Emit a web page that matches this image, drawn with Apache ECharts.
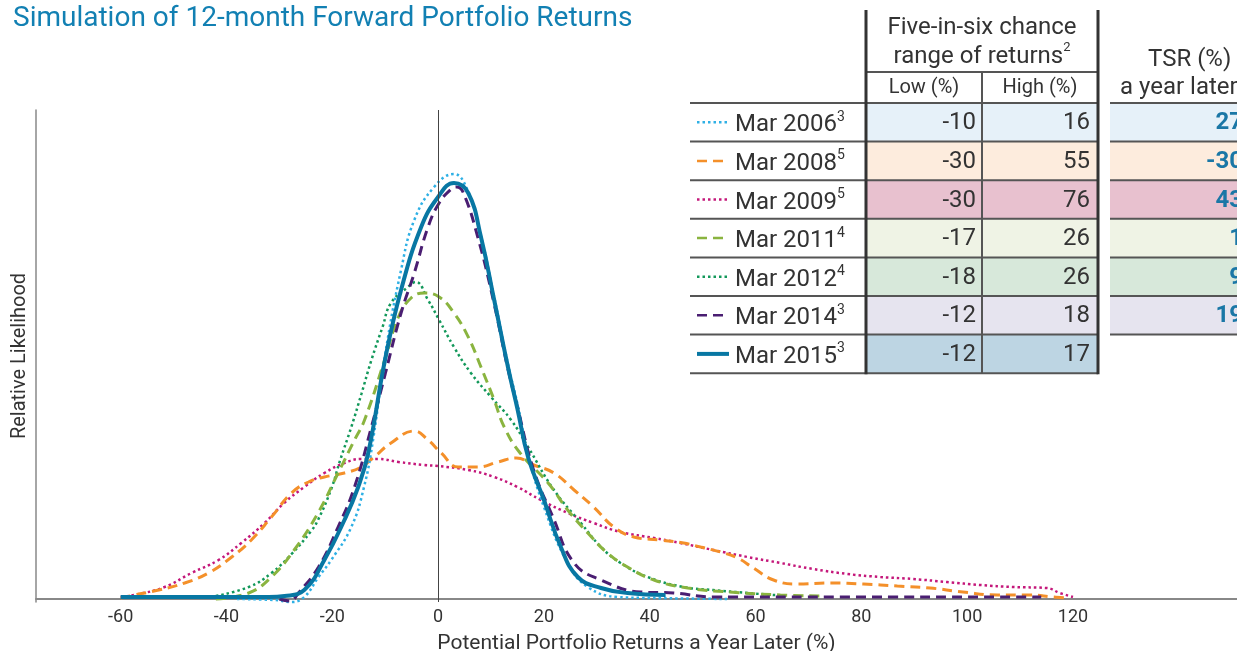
<!DOCTYPE html>
<html>
<head>
<meta charset="utf-8">
<script src="https://cdn.jsdelivr.net/npm/echarts@6/dist/echarts.min.js"></script>
<style>
  html, body { margin: 0; padding: 0; background: #fff; }
  #chart { width: 1237px; height: 651px; }
</style>
</head>
<body>
<div id="chart"></div>
<script>
// x = potential return (%), y = relative likelihood (arbitrary units)
var x2006 = [-38, -31, -27.7, -25.3, -22.6, -20.2, -16.4, -14, -12.3, -10, -7, -4.5, -0.75, 3, 5.3, 8, 10.6, 13.2, 15, 17, 20, 24.5, 28.3, 34, 40, 55];
var y2006 = [0, -1, -3, 2, 22, 39, 72, 112, 159, 245, 329, 379, 412, 425, 412, 365, 302, 235, 195, 145, 92, 36, 12, 2, 1, 0];

var x2008 = [-60, -57.4, -52.8, -47.9, -43.4, -39, -35.3, -31.5, -27.7, -24.5, -21.5, -17.7, -14.5, -12.1, -8.9, -4.5, -1.9, 0.6, 3.8, 7.5, 11.3, 14.8, 18.1, 21.9, 25.7, 29.4, 33.2, 37, 42, 46.4, 49.6, 53.4, 56.6, 59.6, 63.4, 67.9, 74.2, 80.4, 86.8, 93, 99.2, 105.7, 111.9, 116.2, 119];
var y2008 = [1, 4, 9, 16, 26, 42, 59, 82, 106, 117, 122, 126, 132, 142, 156, 168, 159, 146, 132, 132, 137, 141, 134, 126, 109, 92, 72, 62, 59, 56, 52, 47, 41, 31, 19, 15, 16, 15, 13, 11, 7, 4, 4, 2, 1];

var x2009 = [-60, -57.4, -51.7, -46.6, -41.5, -37.2, -32.8, -29.1, -25.3, -21.5, -17.7, -14.5, -11.3, -7.5, -2.6, 0, 5.7, 10.6, 15, 19.4, 24.5, 29.4, 34.5, 40.8, 45.8, 52, 58.5, 64.7, 70.9, 77.4, 83.6, 89.8, 96.2, 102.5, 108.7, 115, 117.5, 120];
var y2009 = [2, 4, 12, 26, 39, 56, 76, 96, 112, 126, 136, 140, 140, 137, 134, 133, 129, 122, 112, 99, 86, 76, 67, 61, 56, 49, 42, 36, 30, 25, 22, 20, 17, 14, 12, 11, 6, 2];

var x2011 = [-42, -35.8, -31.5, -27.2, -22.7, -18.9, -15.8, -13.9, -10.1, -7.5, -5.1, -2.6, 0.2, 3, 5.7, 8.1, 10.6, 12.5, 15.5, 20.8, 24.5, 28.3, 32, 35.8, 40.8, 47.2, 55, 64.7, 73];
var y2011 = [0, 6, 22, 49, 86, 126, 159, 179, 239, 282, 301, 306, 302, 286, 262, 232, 199, 172, 146, 116, 89, 66, 46, 32, 19, 11, 7, 4, 3];

var x2012 = [-43, -35.8, -31.5, -27.7, -24, -22.7, -20.2, -18.5, -16.4, -14.5, -12.6, -10.5, -8.9, -5.7, -4.2, -1.9, 0.2, 3, 6.2, 10, 13.8, 17, 21.9, 27, 30.8, 34.5, 39.6, 46.4, 52, 58.5, 66];
var y2012 = [2, 12, 26, 45, 68, 79, 110, 139, 172, 205, 239, 272, 296, 312, 317, 299, 279, 252, 226, 202, 179, 152, 109, 76, 52, 36, 22, 12, 9, 6, 3];

var x2014 = [-30, -28, -26.4, -22.6, -18.9, -15.8, -12.6, -10, -7, -4.5, -1.9, 0.2, 2.5, 3.5, 4.7, 7.5, 10.6, 13.2, 15, 18, 21.7, 25.7, 30.8, 38.3, 44.5, 52, 70, 114];
var y2014 = [0, -2, 6, 32, 72, 112, 172, 225, 286, 326, 372, 396, 410, 412, 407, 362, 295, 230, 192, 130, 82, 36, 19, 7, 6, 2, 2, 2];

var x2015 = [-60, -45, -32, -29, -25.3, -21.5, -17.7, -15.1, -13.2, -10, -7, -3.2, 0, 3, 5.7, 8.1, 10.6, 13.2, 15, 17, 20, 23.2, 26.4, 30.8, 35.8, 43];
var y2015 = [2, 2, 2, 3, 9, 39, 79, 112, 146, 240, 309, 372, 402, 416, 406, 362, 299, 232, 190, 142, 99, 52, 22, 11, 6, 4];

var xTicks = [-60, -40, -20, 0, 20, 40, 60, 80, 100, 120];

// table
var rowLabels = ['Mar 2006', 'Mar 2008', 'Mar 2009', 'Mar 2011', 'Mar 2012', 'Mar 2014', 'Mar 2015'];
var rowNotes = ['3', '5', '5', '4', '4', '3', '3'];
var lowReturns = [-10, -30, -30, -17, -18, -12, -12];
var highReturns = [16, 55, 76, 26, 26, 18, 17];
var tsrLater = [27, -30, 43, 1, 9, 19, null];

var lineColors = ['#2eb0e5', '#f4902a', '#c4177a', '#8ab43f', '#12985a', '#4a1e72', '#0877a3'];
var lineDashes = [[2.5, 3], [10, 6], [2.5, 3], [10, 6], [2.5, 3], [10, 6], null];
var lineWidths = [2.5, 3, 2.5, 3, 2.5, 3, 4];
var rowFills = ['#e6f1f9', '#fdecdd', '#e8c1cf', '#eff3e5', '#d7e8da', '#e6e4ef', '#bdd5e3'];

var FONT = 'Roboto, "Liberation Sans", sans-serif';
var chart = echarts.init(document.getElementById('chart'));

function pts(xs, ys) {
    return xs.map(function (x, i) { return [x, ys[i]]; });
}

var seriesData = [pts(x2006, y2006), pts(x2008, y2008), pts(x2009, y2009), pts(x2011, y2011),
    pts(x2012, y2012), pts(x2014, y2014), pts(x2015, y2015)];
var drawOrder = [2, 1, 4, 3, 0, 5, 6];

var series = drawOrder.map(function (k) {
    var s = {
        name: rowLabels[k], type: 'line', data: seriesData[k], smooth: 0.45,
        showSymbol: false, symbol: 'none', silent: true, clip: false,
        lineStyle: { color: lineColors[k], width: lineWidths[k], type: lineDashes[k] || 'solid' }
    };
    if (k === 6) {
        s.markLine = {
            silent: true, symbol: 'none', label: { show: false },
            lineStyle: { color: '#444', width: 1, type: 'solid' },
            data: [{ xAxis: 0 }]
        };
    }
    return s;
});

// ---- table as graphic
var TL = 690, C1 = 866, C2 = 982, C3 = 1098, TSR_L = 1110, TSR_R = 1237;
var ROW_TOP = 103, ROW_H = 38.6;
var g = [];
var nRows = rowLabels.length;
for (var i = 0; i < nRows; i++) {
    var y0 = ROW_TOP + i * ROW_H, yc = y0 + ROW_H / 2;
    g.push({ type: 'rect', z: 1, shape: { x: C1, y: y0, width: C3 - C1, height: ROW_H }, style: { fill: rowFills[i] } });
    if (tsrLater[i] !== null) {
        g.push({ type: 'rect', z: 1, shape: { x: TSR_L, y: y0, width: TSR_R - TSR_L, height: ROW_H }, style: { fill: rowFills[i] } });
        g.push({ type: 'text', z: 3, x: 1243, y: yc + 1, style: {
            text: String(tsrLater[i]), fill: '#1a77a6', font: 'bold 24px ' + FONT, align: 'right', verticalAlign: 'middle' } });
    }
    g.push({ type: 'line', z: 3, shape: { x1: 697, y1: yc, x2: 729, y2: yc },
        style: { stroke: lineColors[i], lineWidth: i === 6 ? 4 : 2.5, lineDash: lineDashes[i] } });
    g.push({ type: 'text', z: 3, x: 735, y: yc + 1, style: {
        text: '{a|' + rowLabels[i] + '}{s|' + rowNotes[i] + '}', verticalAlign: 'middle',
        rich: {
            a: { fontSize: 24, fontFamily: FONT, fill: '#333', lineHeight: 28, verticalAlign: 'bottom' },
            s: { fontSize: 14, fontFamily: FONT, fill: '#333', lineHeight: 28, verticalAlign: 'top', padding: [1, 0, 0, 0] }
        } } });
    g.push({ type: 'text', z: 3, x: C2 - 6, y: yc + 1, style: {
        text: String(lowReturns[i]), fill: '#333', font: '24px ' + FONT, align: 'right', verticalAlign: 'middle' } });
    g.push({ type: 'text', z: 3, x: C3 - 8, y: yc + 1, style: {
        text: String(highReturns[i]), fill: '#333', font: '24px ' + FONT, align: 'right', verticalAlign: 'middle' } });
}
// horizontal rules
for (var r = 0; r <= nRows; r++) {
    var yy = ROW_TOP + r * ROW_H;
    g.push({ type: 'line', z: 2, shape: { x1: TL, y1: yy, x2: C3, y2: yy }, style: { stroke: '#555', lineWidth: 2 } });
    if (r < nRows) {
        g.push({ type: 'line', z: 2, shape: { x1: TSR_L, y1: yy, x2: TSR_R, y2: yy }, style: { stroke: '#555', lineWidth: 2 } });
    }
}
var tableBottom = ROW_TOP + nRows * ROW_H;
g.push({ type: 'line', z: 2, shape: { x1: C1, y1: 72, x2: C3, y2: 72 }, style: { stroke: '#555', lineWidth: 2 } });
g.push({ type: 'line', z: 2, shape: { x1: C2, y1: 72, x2: C2, y2: tableBottom }, style: { stroke: '#555', lineWidth: 2 } });
g.push({ type: 'line', z: 4, shape: { x1: C1, y1: 10, x2: C1, y2: tableBottom + 1 }, style: { stroke: '#333', lineWidth: 3 } });
g.push({ type: 'line', z: 4, shape: { x1: C3, y1: 10, x2: C3, y2: tableBottom + 1 }, style: { stroke: '#333', lineWidth: 3 } });
// headers
g.push({ type: 'text', z: 3, x: C2, y: 28, style: { text: 'Five-in-six chance', fill: '#333', font: '24px ' + FONT, align: 'center', verticalAlign: 'middle' } });
g.push({ type: 'text', z: 3, x: C2, y: 55, style: {
    text: '{a|range of returns}{s|2}', align: 'center', verticalAlign: 'middle',
    rich: {
        a: { fontSize: 24, fontFamily: FONT, fill: '#333', lineHeight: 27, verticalAlign: 'bottom' },
        s: { fontSize: 13, fontFamily: FONT, fill: '#333', lineHeight: 27, verticalAlign: 'top' }
    } } });
g.push({ type: 'text', z: 3, x: (C1 + C2) / 2, y: 88, style: { text: 'Low (%)', fill: '#333', font: '20px ' + FONT, align: 'center', verticalAlign: 'middle' } });
g.push({ type: 'text', z: 3, x: (C2 + C3) / 2, y: 88, style: { text: 'High (%)', fill: '#333', font: '20px ' + FONT, align: 'center', verticalAlign: 'middle' } });
g.push({ type: 'text', z: 3, x: 1148, y: 60, style: { text: 'TSR (%)', fill: '#333', font: '24px ' + FONT, align: 'left', verticalAlign: 'middle' } });
g.push({ type: 'text', z: 3, x: 1120, y: 88, style: { text: 'a year later', fill: '#333', font: '24px ' + FONT, align: 'left', verticalAlign: 'middle' } });

var option = {
    backgroundColor: '#fff',
    animation: false,
    title: {
        text: 'Simulation of 12-month Forward Portfolio Returns',
        left: 8, top: 0,
        textStyle: { color: '#1280b3', fontSize: 28, fontWeight: 'normal', fontFamily: FONT }
    },
    grid: { left: 36, right: 0, top: 110, bottom: 49, containLabel: false, outerBoundsMode: 'none' },
    xAxis: {
        type: 'value', min: -76, max: 151,
        name: 'Potential Portfolio Returns a Year Later (%)',
        nameLocation: 'middle', nameGap: 31,
        nameTextStyle: { color: '#333', fontSize: 21, fontFamily: FONT },
        axisLine: { onZero: true, lineStyle: { color: '#888', width: 2 } },
        axisTick: { show: false },
        splitLine: { show: false },
        axisLabel: { customValues: xTicks, color: '#333', fontSize: 18, fontFamily: FONT, margin: 6 }
    },
    yAxis: {
        type: 'value', min: -3, max: 489,
        name: 'Relative Likelihood', nameLocation: 'middle', nameGap: 6, nameRotate: 90,
        nameTextStyle: { color: '#333', fontSize: 20, fontFamily: FONT },
        axisLine: { show: true, onZero: false, lineStyle: { color: '#888', width: 1.5 } },
        axisTick: { show: false },
        axisLabel: { show: false },
        splitLine: { show: false }
    },
    series: series,
    graphic: g
};
chart.setOption(option);
</script>
</body>
</html>
